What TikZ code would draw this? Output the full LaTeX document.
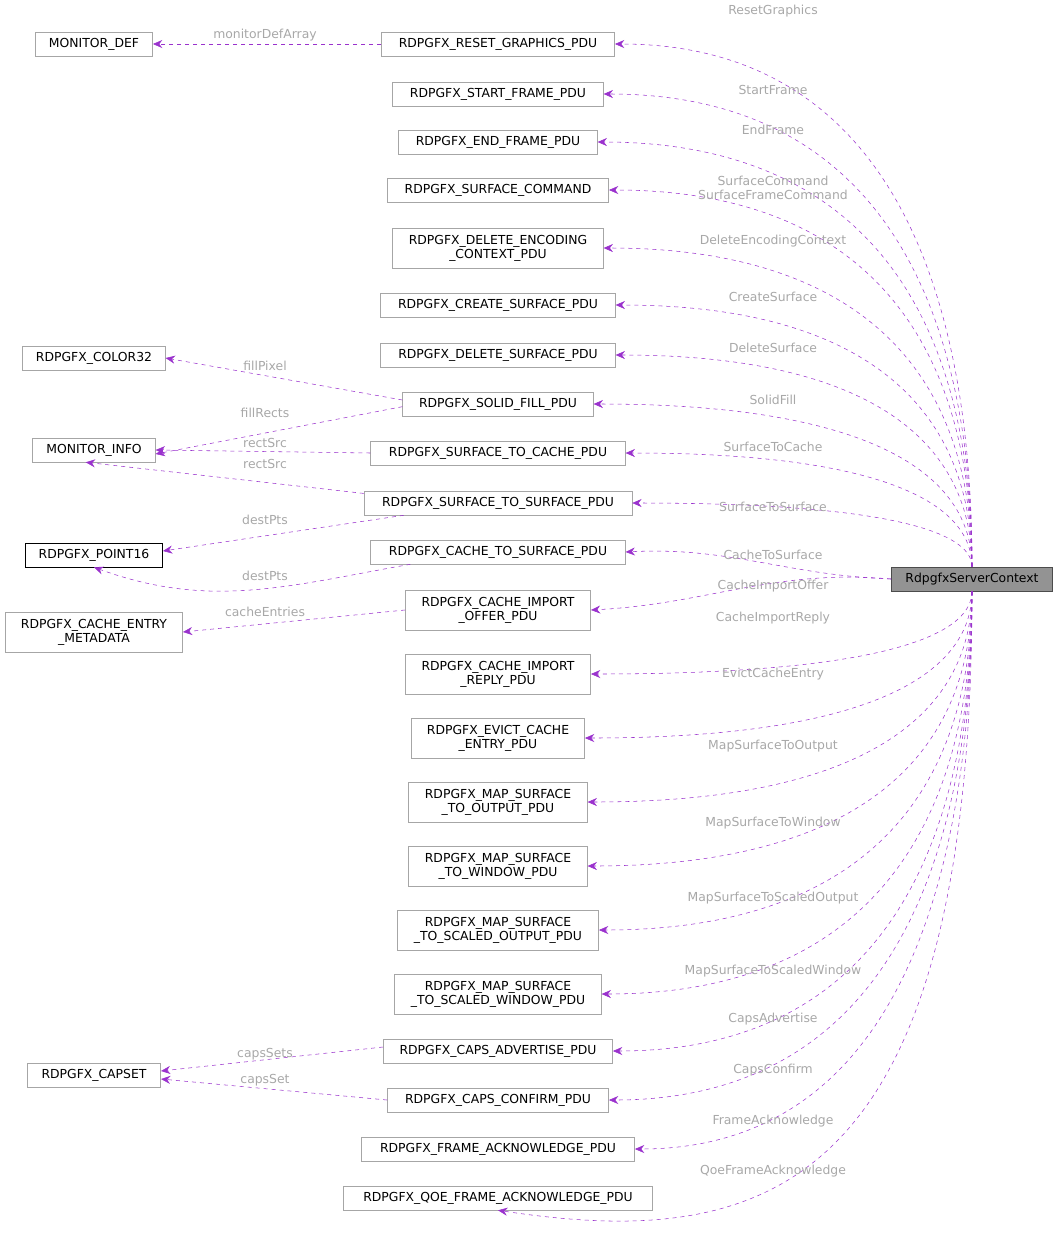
\documentclass[tikz,border=0pt]{standalone}
\usepackage{fontspec}
\setmainfont{DejaVu Sans}
\usetikzlibrary{arrows.meta,shapes,calc}
\definecolor{edgecol}{HTML}{9A32CD}
\definecolor{labcol}{HTML}{A8A8A8}
\tikzset{
  cls/.style={draw=gray!70,fill=white,inner sep=2pt,minimum height=18pt,font=\fontsize{9.3}{10.5}\selectfont,align=center},
  edge/.style={draw=edgecol,dashed,-{Stealth[length=7pt,width=6pt]}},
  lab/.style={text=labcol,font=\fontsize{9.3}{10.5}\selectfont,align=center,inner sep=0pt},
  knee/.style={to path={.. controls ($(\tikztostart)!0.55!(\tikztostart |- \tikztotarget)$) and ($(\tikztotarget)!0.75!(\tikztostart |- \tikztotarget)$) .. (\tikztotarget)}}
}
\begin{document}
\begin{tikzpicture}[x=0.75pt,y=-0.75pt]
  \useasboundingbox (0,0) rectangle (1059,1240);

  % the context node
  \node[cls,fill=gray!85,draw=gray!60!black,minimum height=18pt,minimum width=121pt] (ctx) at (972,579) {RdpgfxServerContext};

  % left column
  \node[cls,minimum width=88pt] (mdef) at (94,44) {MONITOR\_DEF};
  \node[cls,minimum width=107pt] (col32) at (94,358) {RDPGFX\_COLOR32};
  \node[cls,minimum width=92pt] (minfo) at (94,450) {MONITOR\_INFO};
  \node[cls,draw=black,minimum width=103pt] (pt16) at (94,555) {RDPGFX\_POINT16};
  \node[cls,minimum width=133pt,minimum height=30pt] (meta) at (94,632) {RDPGFX\_CACHE\_ENTRY\\\_METADATA};
  \node[cls,minimum width=100pt] (capset) at (94,1075) {RDPGFX\_CAPSET};

  % middle column
  \node[cls,minimum width=175pt] (reset) at (498,44) {RDPGFX\_RESET\_GRAPHICS\_PDU};
  \node[cls,minimum width=158pt] (start) at (498,94) {RDPGFX\_START\_FRAME\_PDU};
  \node[cls,minimum width=149pt] (endf) at (498,142) {RDPGFX\_END\_FRAME\_PDU};
  \node[cls,minimum width=166pt] (scmd) at (498,190) {RDPGFX\_SURFACE\_COMMAND};
  \node[cls,minimum width=158pt,minimum height=30pt] (delenc) at (498,248) {RDPGFX\_DELETE\_ENCODING\\\_CONTEXT\_PDU};
  \node[cls,minimum width=176pt] (csurf) at (498,305) {RDPGFX\_CREATE\_SURFACE\_PDU};
  \node[cls,minimum width=176pt] (dsurf) at (498,355) {RDPGFX\_DELETE\_SURFACE\_PDU};
  \node[cls,minimum width=143pt] (sfill) at (498,404) {RDPGFX\_SOLID\_FILL\_PDU};
  \node[cls,minimum width=191pt] (s2c) at (498,453) {RDPGFX\_SURFACE\_TO\_CACHE\_PDU};
  \node[cls,minimum width=201pt] (s2s) at (498,503) {RDPGFX\_SURFACE\_TO\_SURFACE\_PDU};
  \node[cls,minimum width=191pt] (c2s) at (498,552) {RDPGFX\_CACHE\_TO\_SURFACE\_PDU};
  \node[cls,minimum width=139pt,minimum height=30pt] (offer) at (498,610) {RDPGFX\_CACHE\_IMPORT\\\_OFFER\_PDU};
  \node[cls,minimum width=139pt,minimum height=30pt] (reply) at (498,674) {RDPGFX\_CACHE\_IMPORT\\\_REPLY\_PDU};
  \node[cls,minimum width=130pt,minimum height=30pt] (evict) at (498,738) {RDPGFX\_EVICT\_CACHE\\\_ENTRY\_PDU};
  \node[cls,minimum width=134pt,minimum height=30pt] (mout) at (498,802) {RDPGFX\_MAP\_SURFACE\\\_TO\_OUTPUT\_PDU};
  \node[cls,minimum width=134pt,minimum height=30pt] (mwin) at (498,866) {RDPGFX\_MAP\_SURFACE\\\_TO\_WINDOW\_PDU};
  \node[cls,minimum width=151pt,minimum height=30pt] (msout) at (498,930) {RDPGFX\_MAP\_SURFACE\\\_TO\_SCALED\_OUTPUT\_PDU};
  \node[cls,minimum width=155pt,minimum height=30pt] (mswin) at (498,994) {RDPGFX\_MAP\_SURFACE\\\_TO\_SCALED\_WINDOW\_PDU};
  \node[cls,minimum width=172pt] (cadv) at (498,1051) {RDPGFX\_CAPS\_ADVERTISE\_PDU};
  \node[cls,minimum width=166pt] (cconf) at (498,1100) {RDPGFX\_CAPS\_CONFIRM\_PDU};
  \node[cls,minimum width=205pt] (fack) at (498,1149) {RDPGFX\_FRAME\_ACKNOWLEDGE\_PDU};
  \node[cls,minimum width=232pt] (qack) at (498,1198) {RDPGFX\_QOE\_FRAME\_ACKNOWLEDGE\_PDU};

  % edges from the context
  \foreach \t in {reset,start,endf,scmd,delenc,csurf,dsurf,sfill,s2c,s2s}
    \draw[edge] (ctx.north) to[knee] (\t.east);
  \draw[edge] (ctx.west) to[out=178,in=3] (c2s.east);
  \draw[edge] (ctx.west) to[out=175,in=3] (offer.east);
  \foreach \t in {reply,evict,mout,mwin,msout,mswin,cadv,cconf,fack}
    \draw[edge] (ctx.south) to[knee] (\t.east);
  \draw[edge] (ctx.south) .. controls (972,1200) and (760,1250) .. (qack.south);

  % edge labels
  \node[lab] (l1) at (773,11) {ResetGraphics};
  \node[lab] (l2) at (773,90) {StartFrame};
  \node[lab] (l3) at (773,130) {EndFrame};
  \node[lab] (l4) at (773,188) {SurfaceCommand\\SurfaceFrameCommand};
  \node[lab] (l5) at (773,241) {DeleteEncodingContext};
  \node[lab] (l6) at (773,297) {CreateSurface};
  \node[lab] (l7) at (773,348) {DeleteSurface};
  \node[lab] (l8) at (773,400) {SolidFill};
  \node[lab] (l9) at (773,447) {SurfaceToCache};
  \node[lab] (l10) at (773,507) {SurfaceToSurface};
  \node[lab] (l11) at (773,555) {CacheToSurface};
  \node[lab] (l12) at (773,586) {CacheImportOffer};
  \node[lab] (l13) at (773,618) {CacheImportReply};
  \node[lab] (l14) at (773,674) {EvictCacheEntry};
  \node[lab] (l15) at (773,746) {MapSurfaceToOutput};
  \node[lab] (l16) at (773,823) {MapSurfaceToWindow};
  \node[lab] (l17) at (773,898) {MapSurfaceToScaledOutput};
  \node[lab] (l18) at (773,971) {MapSurfaceToScaledWindow};
  \node[lab] (l19) at (773,1019) {CapsAdvertise};
  \node[lab] (l20) at (773,1070) {CapsConfirm};
  \node[lab] (l21) at (773,1121) {FrameAcknowledge};
  \node[lab] (l22) at (773,1171) {QoeFrameAcknowledge};

  % member edges on the left
  \draw[edge] (reset.west) -- (mdef.east);
  \draw[edge] ([yshift=3pt]sfill.west) -- (col32.east);
  \draw[edge] ([yshift=-2pt]sfill.west) -- ([yshift=-3pt]minfo.east);
  \draw[edge] (s2c.west) -- (minfo.east);
  \draw[edge] ([yshift=-2pt]s2s.north west) -- ([xshift=40pt]minfo.south west);
  \draw[edge] ([xshift=30pt]s2s.south west) -- ([yshift=3pt]pt16.east);
  \draw[edge] ([xshift=30pt]c2s.south west) to[out=190,in=-20] (pt16.south);
  \draw[edge] (offer.west) -- (meta.east);
  \draw[edge] ([yshift=3pt]cadv.west) -- ([yshift=3pt]capset.east);
  \draw[edge] (cconf.west) -- ([yshift=-3pt]capset.east);

  \node[lab] (m1) at (265,35) {monitorDefArray};
  \node[lab] (m2) at (265,366) {fillPixel};
  \node[lab] (m3) at (265,413) {fillRects};
  \node[lab] (m4) at (265,443) {rectSrc};
  \node[lab] (m5) at (265,464) {rectSrc};
  \node[lab] (m6) at (265,520) {destPts};
  \node[lab] (m7) at (265,576) {destPts};
  \node[lab] (m8) at (265,612) {cacheEntries};
  \node[lab] (m9) at (265,1054) {capsSets};
  \node[lab] (m10) at (265,1080) {capsSet};
\end{tikzpicture}
\end{document}
